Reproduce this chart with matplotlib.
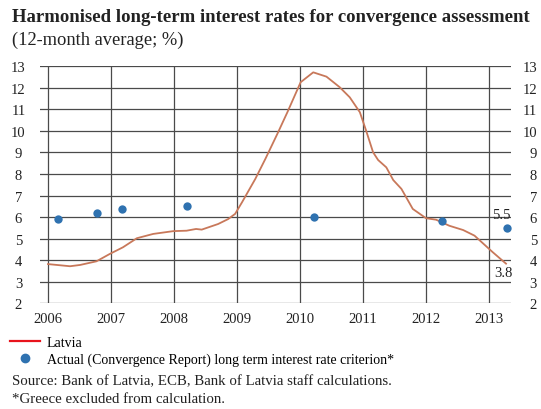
import matplotlib
matplotlib.use("Agg")
import matplotlib.pyplot as plt
import matplotlib.transforms as mtrans
from matplotlib.lines import Line2D

plt.rcParams["font.family"] = ["Liberation Serif", "DejaVu Serif"]

# Latvia, 12-month average long-term rate (%), decimal years
latvia_t = [2006.00, 2006.35, 2006.51, 2006.77, 2006.98, 2007.19, 2007.41, 2007.67,
            2007.99, 2008.20, 2008.35, 2008.44, 2008.70, 2008.86, 2008.97, 2009.08,
            2009.29, 2009.45, 2009.64, 2009.80, 2010.01, 2010.21, 2010.42, 2010.63,
            2010.79, 2010.95, 2011.05, 2011.16, 2011.24, 2011.37, 2011.48, 2011.61,
            2011.79, 2012.00, 2012.16, 2012.37, 2012.59, 2012.77, 2013.06, 2013.27]
latvia_v = [3.82, 3.72, 3.78, 3.95, 4.29, 4.60, 5.02, 5.22,
            5.35, 5.37, 5.45, 5.42, 5.68, 5.91, 6.15, 6.69,
            7.77, 8.70, 9.86, 10.87, 12.26, 12.72, 12.52, 12.03,
            11.56, 10.87, 10.01, 9.01, 8.65, 8.31, 7.72, 7.31,
            6.38, 5.95, 5.88, 5.60, 5.40, 5.14, 4.37, 3.84]

# Convergence Report reference values
crit_t = [2006.16, 2006.77, 2007.18, 2008.21, 2010.23, 2012.25, 2013.29]
crit_v = [5.9, 6.2, 6.4, 6.5, 6.0, 5.8, 5.5]

years = list(range(2006, 2014))
yticks = list(range(2, 14))

W, H = 541, 410
fig = plt.figure(figsize=(W / 100, H / 100), dpi=100)
ax = fig.add_axes([40 / W, 1 - 304.3 / H, 471 / W, 237 / H])

line_col = "#c8785a"
dot_col = "#2f72b0"
grid_col = "#4a4a4a"
txt_col = "#222222"

ax.plot(latvia_t, latvia_v, color=line_col, lw=1.3, zorder=3)
ax.scatter(crit_t, crit_v, s=36, color=dot_col, zorder=4, linewidths=0)

ax.set_xlim(2006 - 8 / 63, 2006 + 463 / 63)
ax.set_ylim(2, 13)
ax.set_xticks(years)
ax.set_yticks(yticks)
ax.grid(True, color=grid_col, lw=0.9)
ax.set_axisbelow(True)
for s in ax.spines.values():
    s.set_visible(False)
ax.tick_params(length=0, labelsize=10.5, colors=txt_col)
ax.tick_params(axis="x", pad=6)
ax.tick_params(axis="y", labelright=True, pad=15.5)
# left labels centred in the margin, right labels flush with the figure edge
right_shift = mtrans.ScaledTranslation(26 / 100, 0, fig.dpi_scale_trans)
for t in ax.yaxis.get_major_ticks():
    t.label1.set_horizontalalignment("center")
    t.label2.set_horizontalalignment("right")
    t.label2.set_x(1.0)
    t.label2.set_transform(ax.get_yaxis_transform() + right_shift)

ax.annotate(f"{crit_v[-1]:.1f}", (crit_t[-1], crit_v[-1]), xytext=(-4, 10),
            textcoords="offset points", ha="center", va="center", fontsize=10.5,
            color=txt_col)
ax.annotate(f"{latvia_v[-1]:.1f}", (latvia_t[-1], latvia_v[-1]), xytext=(-2, -6.5),
            textcoords="offset points", ha="center", va="center", fontsize=10.5,
            color=txt_col)

fig.text(12 / W, 1 - 18 / H, "Harmonised long-term interest rates for convergence assessment",
         fontsize=13.5, fontweight="bold", va="center", ha="left", color=txt_col)
fig.text(12 / W, 1 - 40 / H, "(12-month average; %)", fontsize=13.3, va="center",
         ha="left", color=txt_col)

handles = [Line2D([], [], color="#e8141c", lw=1.6),
           Line2D([], [], marker="o", ls="none", color=dot_col, markersize=6)]
fig.legend(handles, ["Latvia", "Actual (Convergence Report) long term interest rate criterion*"],
           loc="upper left", bbox_to_anchor=(10 / W, 1 - 337 / H), frameon=False,
           fontsize=10, handlelength=2.16, handletextpad=0.5, labelspacing=0.22,
           borderaxespad=0, borderpad=0)

fig.text(12 / W, 1 - 382 / H, "Source: Bank of Latvia, ECB, Bank of Latvia staff calculations.",
         fontsize=10.7, va="center", ha="left", color=txt_col)
fig.text(12 / W, 1 - 400 / H, "*Greece excluded from calculation.",
         fontsize=10.7, va="center", ha="left", color=txt_col)

fig.savefig("out.png", dpi=100)
